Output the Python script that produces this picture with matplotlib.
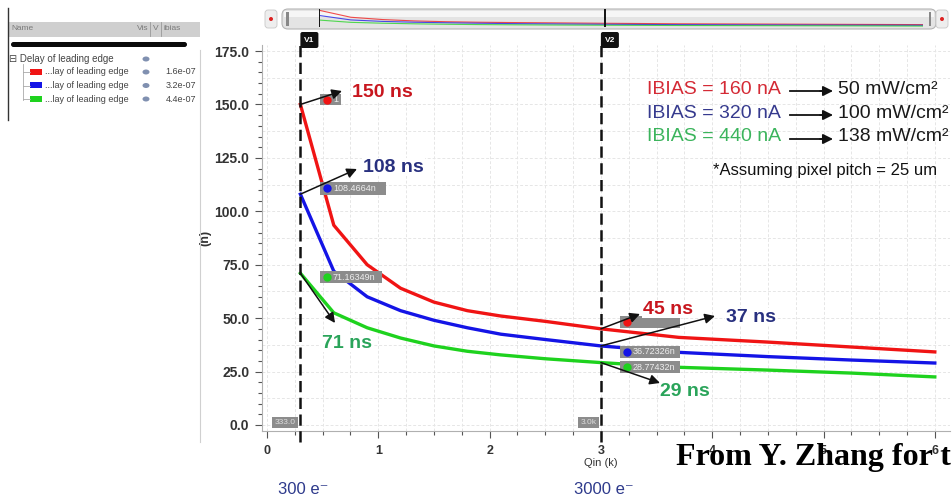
import matplotlib
matplotlib.use('Agg')
import matplotlib.pyplot as plt
from matplotlib.patches import FancyBboxPatch, Rectangle, Ellipse
from matplotlib.ticker import MultipleLocator
from matplotlib.lines import Line2D

# ---------------- data ----------------
qin_k = [0.3, 0.6, 0.9, 1.2, 1.5, 1.8, 2.1, 2.5, 3.0, 3.7, 4.5, 5.25, 6.0]
delay_ibias_160n = [150, 93.5, 75, 64, 57.5, 53.5, 51, 48.5, 45, 41, 38.8, 36.5, 34.2]
delay_ibias_320n = [108, 72, 60, 53.5, 49, 45.5, 42.5, 40, 37, 34, 32, 30.4, 29]
delay_ibias_440n = [71, 52.5, 45.5, 40.7, 37, 34.5, 32.8, 31, 29.2, 27, 25.7, 24.3, 22.5]
series = [delay_ibias_160n, delay_ibias_320n, delay_ibias_440n]
tree_names = ['...lay of leading edge'] * 3
ibias_values = ['1.6e-07', '3.2e-07', '4.4e-07']
ibias_labels = ['IBIAS = 160 nA', 'IBIAS = 320 nA', 'IBIAS = 440 nA']
power_labels = ['50 mW/cm\u00b2', '100 mW/cm\u00b2', '138 mW/cm\u00b2']
cursor_x = [0.3, 3.0]
cursor_names = ['V1', 'V2']
cursor_values = ['333.0', '3.0k']
cursor_charges = ['300 e\u207b', '3000 e\u207b']
v1_notes = ['150 ns', '108 ns', '71 ns']
v2_notes = ['45 ns', '37 ns', '29 ns']
v1_marker_text = ['1', '108.4664n', '71.16349n']
v2_marker_text = ['', '36.72326n', '28.77432n']
yticks = [0, 25, 50, 75, 100, 125, 150, 175]
ytick_labels = ['0.0', '25.0', '50.0', '75.0', '100.0', '125.0', '150.0', '175.0']
xticks = [0, 1, 2, 3, 4, 5, 6]
xtick_labels = ['0', '1', '2', '3', '4', '5', '6']

line_colors = ['#f01414', '#1414e6', '#1ed21e']
note_colors = ['#c8161e', '#28307f', '#2aa45a']
legend_colors = ['#d42a35', '#363a8e', '#3bb45c']

plt.rcParams['font.family'] = ['Liberation Sans', 'DejaVu Sans']

W, H = 953, 499
fig = plt.figure(figsize=(W / 100, H / 100), dpi=100)
fig.patch.set_facecolor('white')


def fx(px):
    return px / W


def fy(py):
    return 1 - py / H


def inch(px, py):
    return (px / 100, (H - py) / 100)


# ---------------- main axes ----------------
L, R, T, B = 262, 950, 45, 431
ax = fig.add_axes([fx(L), fy(B), (R - L) / W, (B - T) / H])
X0, XS = 267, 111.3
Y0, YS = 425, 2.137
ax.set_xlim((L - X0) / XS, (R - X0) / XS)
ax.set_ylim((Y0 - B) / YS, (Y0 - T) / YS)

ax.xaxis.set_minor_locator(MultipleLocator(0.25))
ax.yaxis.set_minor_locator(MultipleLocator(5))
ax.set_xticks(xticks)
ax.set_xticklabels(xtick_labels)
ax.set_yticks(yticks)
ax.set_yticklabels(ytick_labels)
for s in ['top', 'right']:
    ax.spines[s].set_visible(False)
for s in ['left', 'bottom']:
    ax.spines[s].set_color('#b0b0b0')
    ax.spines[s].set_linewidth(0.8)
ax.tick_params(axis='both', which='both', direction='out', colors='#555555', width=0.8)
ax.tick_params(axis='both', which='major', length=5)
ax.tick_params(axis='both', which='minor', length=3)
ax.tick_params(axis='y', labelsize=10, pad=4, labelcolor='#333333')
ax.tick_params(axis='x', labelsize=9, pad=5, labelcolor='#333333')
for t in ax.get_yticklabels() + ax.get_xticklabels():
    t.set_fontweight('bold')

# grid
for gx in [i * 0.25 for i in range(0, 25)]:
    ax.axvline(gx, color='#e6e6e6', lw=0.7, ls=(0, (3, 2)), zorder=0)
for gy in [i * 12.5 for i in range(0, 15)]:
    ax.axhline(gy, color='#e6e6e6', lw=0.7, ls=(0, (3, 2)), zorder=0)

for ys, c in zip(series, line_colors):
    ax.plot(qin_k, ys, color=c, lw=2.4, solid_joinstyle='round', zorder=3)

# cursors
for cx in cursor_x:
    ax.plot([cx, cx], [-8, 178], color='#111111', lw=1.8, ls=(0, (4.5, 2.2)),
            clip_on=False, zorder=4)

ax.set_ylabel('(n)', fontsize=9, fontweight='bold', color='#333333')
ax.yaxis.set_label_coords((211 - L) / (R - L), 0.5)
fig.text(fx(601), fy(463), 'Qin (k)', fontsize=8, color='#333333', ha='center', va='center')


def d(px, py):
    return ((px - X0) / XS, (Y0 - py) / YS)


# marker value boxes
def marker_box(x0, x1, y0, y1, dot_color, text):
    p = FancyBboxPatch(d(x0, y1), (x1 - x0) / XS, (y1 - y0) / YS,
                       boxstyle='round,pad=0,rounding_size=0.03',
                       fc='#8c8c8c', ec='none', zorder=5, mutation_aspect=YS / XS)
    ax.add_patch(p)
    ax.plot(*d(x0 + 7, (y0 + y1) / 2), 'o', ms=5, color=dot_color, zorder=6)
    if text:
        ax.text(*d(x0 + 13, (y0 + y1) / 2), text, fontsize=6.5, color='#eeeeee',
                va='center', ha='left', zorder=6)


marker_box(320, 341, 94, 105, line_colors[0], v1_marker_text[0])
marker_box(320, 386, 182, 195, line_colors[1], v1_marker_text[1])
marker_box(320, 382, 271, 283, line_colors[2], v1_marker_text[2])
marker_box(620, 680, 316, 328, line_colors[0], v2_marker_text[0])
marker_box(620, 680, 346, 358, line_colors[1], v2_marker_text[1])
marker_box(620, 680, 361, 373, line_colors[2], v2_marker_text[2])

# cursor value boxes at bottom
for (bx0, bx1), lab in zip([(272, 298), (578, 599)], cursor_values):
    p = FancyBboxPatch(d(bx0, 428), (bx1 - bx0) / XS, 11 / YS,
                       boxstyle='round,pad=0,rounding_size=0.03',
                       fc='#8c8c8c', ec='none', zorder=5, mutation_aspect=YS / XS)
    ax.add_patch(p)
    ax.text(*d((bx0 + bx1) / 2, 422.5), lab, fontsize=6, color='#dddddd',
            ha='center', va='center', zorder=6)

# annotations with arrows
arrow_kw = dict(arrowstyle='-|>,head_length=0.6,head_width=0.3', color='#111111', lw=1.1,
                shrinkA=0, shrinkB=0)
v1_starts = [(0.3, series[0][0]), (0.3, series[1][0]), (0.3, series[2][0])]
v1_tips = [d(342, 91), d(357, 169), d(335, 323)]
v1_text_pos = [(352, 92), (363, 167), (322, 343)]
for (sx, sy), tip, (tx, ty), note, c in zip(v1_starts, v1_tips, v1_text_pos, v1_notes, note_colors):
    ax.text(*d(tx, ty), note, fontsize=14, fontweight='bold', color=c, ha='left', va='center',
            zorder=7, bbox=dict(fc='white', ec='none', pad=0.5))
    ax.annotate('', xy=tip, xytext=(sx, sy), arrowprops=arrow_kw, zorder=8)

i3 = qin_k.index(3.0)
v2_starts = [(3.0, series[0][i3]), (3.0, series[1][i3]), (3.0, series[2][i3])]
v2_tips = [d(640, 314), d(715, 316), d(660, 383)]
v2_text_pos = [(643, 309), (726, 317), (660, 392)]
for (sx, sy), tip, (tx, ty), note, c in zip(v2_starts, v2_tips, v2_text_pos, v2_notes, note_colors):
    ax.text(*d(tx, ty), note, fontsize=14, fontweight='bold', color=c, ha='left', va='center',
            zorder=7, bbox=dict(fc='white', ec='none', pad=0.5))
    ax.annotate('', xy=tip, xytext=(sx, sy), arrowprops=arrow_kw, zorder=8)

# legend-like text block
for i, (lab, pw, c) in enumerate(zip(ibias_labels, power_labels, legend_colors)):
    py = 89 + 24 * i
    fig.text(fx(647), fy(py), lab, fontsize=14, color=c, ha='left', va='center', zorder=9)
    fig.add_artist(Line2D([fx(790), fx(826)], [fy(py + 2), fy(py + 2)], color='#111111', lw=1.3))
    ax.annotate('', xy=(fx(833), fy(py + 2)), xytext=(fx(820), fy(py + 2)),
                xycoords='figure fraction', textcoords='figure fraction',
                arrowprops=dict(arrowstyle='-|>,head_length=0.6,head_width=0.3', color='#111111',
                                lw=1.2, shrinkA=0, shrinkB=0))
    fig.text(fx(838), fy(py), pw, fontsize=14, color='#1a1a1a', ha='left', va='center')
fig.text(fx(713), fy(171), '*Assuming pixel pitch = 25 um', fontsize=12, color='#111111',
         ha='left', va='center')

# cursor tags V1 / V2
for cx, name in zip(cursor_x, cursor_names):
    px = X0 + cx * XS
    tag = FancyBboxPatch(inch(px, 48), 18 / 100, 16 / 100, boxstyle='round,pad=0,rounding_size=0.02',
                         transform=fig.dpi_scale_trans, fc='#111111', ec='none')
    fig.add_artist(tag)
    fig.text(fx(px + 9), fy(40), name, fontsize=6, color='white', ha='center', va='center',
             fontweight='bold')

# ---------------- overview scroll bar ----------------
bar = FancyBboxPatch(inch(282, 29), (936 - 282) / 100, 20 / 100,
                     boxstyle='round,pad=0,rounding_size=0.06',
                     transform=fig.dpi_scale_trans, fc='#e4e4e4', ec='#b5b5b5', lw=0.8,
                     zorder=-3)
fig.add_artist(bar)
fig.add_artist(Rectangle(inch(284, 17), (934 - 284) / 100, 6 / 100,
                         transform=fig.dpi_scale_trans, fc='#f6f6f6', ec='none', zorder=-2))
for cxp in [271, 942]:
    fig.add_artist(FancyBboxPatch(inch(cxp - 6, 28), 12 / 100, 18 / 100,
                                  boxstyle='round,pad=0,rounding_size=0.03',
                                  transform=fig.dpi_scale_trans, fc='#eeeeee', ec='#c8c8c8', lw=0.6))
    fig.add_artist(Ellipse(inch(cxp, 19), 4 / 100, 4 / 100, transform=fig.dpi_scale_trans,
                           fc='#dd2222', ec='none'))
for bx in [287, 930]:
    fig.add_artist(Rectangle(inch(bx - 1.5, 26), 3 / 100, 14 / 100, transform=fig.dpi_scale_trans,
                             fc='#888888', ec='none'))
ov = fig.add_axes([fx(319), fy(27), (923 - 319) / W, 18 / H])
ov.set_xlim(0.3, 6.0)
ov.set_ylim(15, 160)
ov.axis('off')
for ys, c in zip(series, line_colors):
    ov.plot(qin_k, ys, color=c, lw=0.8, alpha=0.75)
for cx in cursor_x:
    ov.axvline(cx, color='#111111', lw=1.4)

# ---------------- left browser panel ----------------
fig.add_artist(Line2D([fx(8), fx(8)], [fy(8), fy(120)], color='#333333', lw=1.0))
fig.add_artist(Rectangle(inch(9, 37), 191 / 100, 15 / 100, transform=fig.dpi_scale_trans,
                         fc='#cfcfcf', ec='none'))
fig.text(fx(11), fy(29), 'Name', fontsize=6, color='#7a7a7a', va='center')
fig.text(fx(137), fy(29), 'Vis', fontsize=6, color='#7a7a7a', va='center')
fig.add_artist(Line2D([fx(150), fx(150)], [fy(22), fy(36)], color='#999999', lw=0.6))
fig.text(fx(153), fy(29), 'V', fontsize=6, color='#7a7a7a', va='center')
fig.add_artist(Line2D([fx(161), fx(161)], [fy(22), fy(36)], color='#999999', lw=0.6))
fig.text(fx(164), fy(29), 'ibias', fontsize=6, color='#7a7a7a', va='center')
fig.add_artist(FancyBboxPatch(inch(11, 47), 176 / 100, 5 / 100,
                              boxstyle='round,pad=0,rounding_size=0.025',
                              transform=fig.dpi_scale_trans, fc='#0a0a0a', ec='none'))
fig.add_artist(Line2D([fx(200), fx(200)], [fy(50), fy(442)], color='#d0d0d0', lw=0.8))

fig.text(fx(9), fy(59), '\u229f Delay of leading edge', fontsize=7, color='#444444', va='center')
fig.add_artist(Ellipse(inch(146, 59), 7 / 100, 5 / 100, transform=fig.dpi_scale_trans,
                       fc='#8090b0', ec='none'))
fig.add_artist(Line2D([fx(23), fx(23)], [fy(64), fy(100)], color='#aaaaaa', lw=0.6))
for i, (nm, val, c) in enumerate(zip(tree_names, ibias_values, line_colors)):
    py = 72 + 13.5 * i
    fig.add_artist(Line2D([fx(23), fx(30)], [fy(py), fy(py)], color='#aaaaaa', lw=0.6))
    fig.add_artist(Rectangle(inch(30, py + 3), 12 / 100, 6 / 100, transform=fig.dpi_scale_trans,
                             fc=c, ec='none'))
    fig.text(fx(45), fy(py), nm, fontsize=6.5, color='#444444', va='center')
    fig.add_artist(Ellipse(inch(146, py), 7 / 100, 5 / 100, transform=fig.dpi_scale_trans,
                           fc='#8090b0', ec='none'))
    fig.text(fx(196), fy(py), val, fontsize=6.5, color='#444444', va='center', ha='right')

# ---------------- footer texts ----------------
fig.text(fx(676), fy(457), 'From Y. Zhang for t', fontsize=23, fontweight='bold',
         family=['Liberation Serif', 'DejaVu Serif'], color='#000000', va='center', ha='left')
for cx, lab in zip(cursor_x, cursor_charges):
    px = X0 + cx * XS
    fig.text(fx(px + 3), fy(490), lab, fontsize=12, color='#2e3a8c', ha='center', va='center')

fig.savefig('out.png', dpi=100)
